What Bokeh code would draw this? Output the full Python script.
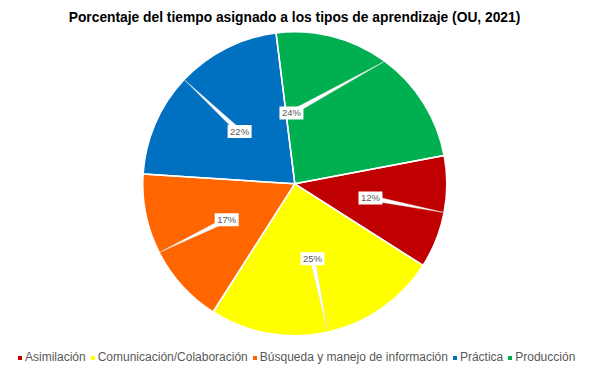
import numpy as np
from bokeh.plotting import figure
from bokeh.models import Range1d, Legend, LegendItem, ColumnDataSource, Label
from bokeh.core.properties import value
from bokeh.embed import file_html
from bokeh.resources import INLINE

# ---- data ----
categories = ["Asimilación", "Comunicación/Colaboración",
              "Búsqueda y manejo de información", "Práctica", "Producción"]
percentages = [12, 25, 17, 22, 24]
colors = ["#C00000", "#FFFF00", "#FF6600", "#0070C0", "#00B050"]
title_text = "Porcentaje del tiempo asignado a los tipos de aprendizaje (OU, 2021)"

# ---- layout (not data) ----
W, H = 602, 369
cx, cy, R = 294.3, H - 183.3, 152
start_deg = 10.7
label_angle_deg = [-10.6, -76.7, 207.8, 136.6, 92.7]
label_r = [77, 77, 77, 76, 71]
FONT = "Liberation Sans"

vals = np.array(percentages, dtype=float)
frac = vals / vals.sum()
cum = np.concatenate([[0], np.cumsum(frac)])
a0 = np.deg2rad(start_deg)
starts = a0 - cum[:-1] * 2 * np.pi
ends = a0 - cum[1:] * 2 * np.pi
mids = (starts + ends) / 2

lab_a = np.deg2rad(label_angle_deg)
lx = cx + np.array(label_r) * np.cos(lab_a)
ly = cy + np.array(label_r) * np.sin(lab_a)

src = ColumnDataSource(dict(start=starts, end=ends, color=colors, cat=categories))

p = figure(width=W, height=H, output_backend="svg", toolbar_location=None,
           x_range=Range1d(0, W), y_range=Range1d(0, H), min_border=0,
           x_axis_location=None, y_axis_location=None)
p.grid.visible = False
p.outline_line_color = None
p.background_fill_color = "white"
p.border_fill_color = "white"

fill_r = p.wedge(x=cx, y=cy, radius=R, start_angle="start", end_angle="end",
                 direction="clock", fill_color="color", line_color=None, source=src)
p.wedge(x=cx, y=cy, radius=R, start_angle="start", end_angle="end",
        direction="clock", fill_color=None, line_color="white", line_width=1.5,
        source=src)

# callouts
xs, ys = [], []
for i in range(len(vals)):
    ax_, ay_ = cx + (R - 1) * np.cos(mids[i]), cy + (R - 1) * np.sin(mids[i])
    dx, dy = ax_ - lx[i], ay_ - ly[i]
    d = np.hypot(dx, dy)
    nx, ny = -dy / d, dx / d
    hw = 2.5
    xs.append([lx[i] + nx * hw, ax_, lx[i] - nx * hw])
    ys.append([ly[i] + ny * hw, ay_, ly[i] - ny * hw])
p.patches(xs=xs, ys=ys, fill_color="white", line_color="#E0E0E0", line_width=0.5)

lsrc = ColumnDataSource(dict(x=lx, y=ly, t=[f"{v}%" for v in percentages]))
p.rect(x="x", y="y", width=24, height=13, width_units="screen", height_units="screen",
       fill_color="white", line_color=None, source=lsrc)
p.text(x="x", y="y", text="t", text_align="center", text_baseline="middle",
       text_font=value(FONT), text_font_size="9.5px", text_color="#595959", source=lsrc)

p.add_layout(Label(x=294, y=H - 17, x_units="screen", y_units="screen",
                   text=title_text, text_align="center", text_baseline="alphabetic",
                   text_font=FONT, text_font_size="13.8px", text_font_style="bold",
                   text_color="black"))

legend = Legend(items=[LegendItem(label=c, renderers=[fill_r], index=i)
                       for i, c in enumerate(categories)],
                orientation="horizontal", location=(17, 5), padding=0, margin=0,
                spacing=4, label_standoff=3, glyph_width=5, glyph_height=5,
                label_height=12, label_text_font=FONT, label_text_font_size="12px",
                label_text_color="#595959", border_line_color=None,
                background_fill_alpha=0)
p.add_layout(legend)

open("out.html", "w").write(file_html(p, INLINE))
